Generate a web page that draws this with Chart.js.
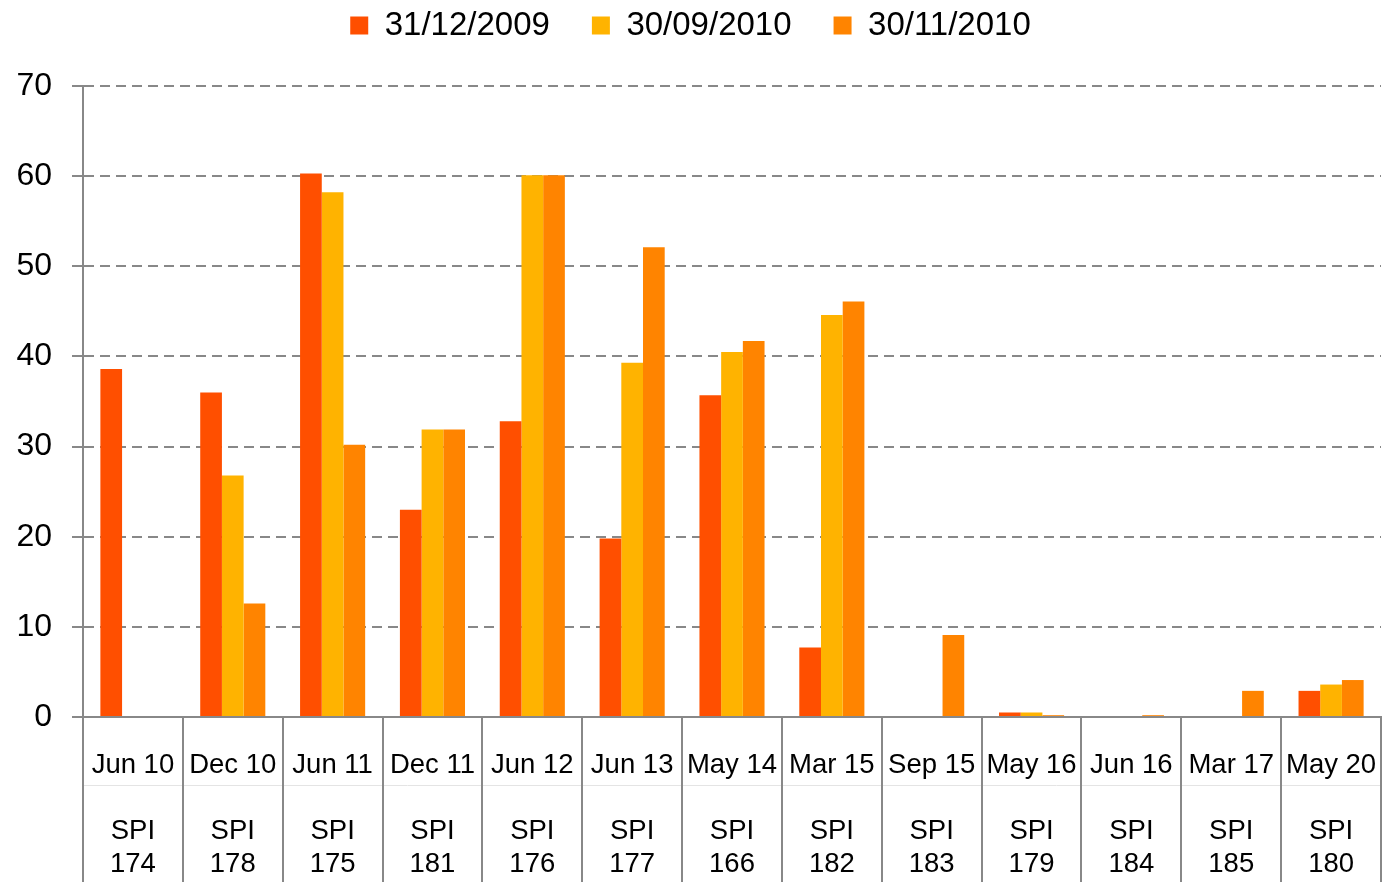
<!DOCTYPE html>
<html>
<head>
<meta charset="utf-8">
<script src="https://cdn.jsdelivr.net/npm/chart.js@4/dist/chart.umd.min.js"></script>
<style>
  html, body { margin: 0; padding: 0; background: #fff; }
  #wrap { width: 1384px; height: 882px; position: relative; }
</style>
</head>
<body>
<div id="wrap"><canvas id="spiChart"></canvas></div>
<script>
const dates = ["Jun 10", "Dec 10", "Jun 11", "Dec 11", "Jun 12", "Jun 13", "May 14",
  "Mar 15", "Sep 15", "May 16", "Jun 16", "Mar 17", "May 20"];
const spiCodes = ["174", "178", "175", "181", "176", "177", "166",
  "182", "183", "179", "184", "185", "180"];

const seriesNames = ["31/12/2009", "30/09/2010", "30/11/2010"];
const dec2009 = [38.6, 36.0, 60.3, 23.0, 32.8, 19.8, 35.7, 7.7, null, 0.5, null, null, 2.9];
const sep2010 = [null, 26.8, 58.2, 31.9, 60.1, 39.3, 40.5, 44.6, null, 0.5, null, null, 3.6];
const nov2010 = [null, 12.6, 30.2, 31.9, 60.1, 52.1, 41.7, 46.1, 9.1, 0.2, 0.2, 2.9, 4.1];

const yMin = 0, yMax = 70, yStep = 10;

const colors = ["#FF4F00", "#FFB300", "#FF8400"];
const gridGrey = "#888888";
const font = "'Liberation Sans', Arial, sans-serif";

// category separators running down through the label area
const separatorPlugin = {
  id: "separators",
  afterDraw(chart) {
    const { ctx, chartArea, scales } = chart;
    const x = scales.x;
    const half = (x.getPixelForValue(1) - x.getPixelForValue(0)) / 2;
    ctx.save();
    // faint row line between date and SPI
    ctx.strokeStyle = "#e4e4e4";
    ctx.lineWidth = 1;
    ctx.beginPath();
    ctx.moveTo(chartArea.left, chartArea.bottom + 68.5);
    ctx.lineTo(chartArea.right, chartArea.bottom + 68.5);
    ctx.stroke();

    ctx.strokeStyle = gridGrey;
    ctx.lineWidth = 2;
    for (let i = 0; i <= dates.length; i++) {
      const px = Math.round(x.getPixelForValue(i) - half);
      ctx.beginPath();
      ctx.moveTo(px, chartArea.bottom);
      ctx.lineTo(px, chart.height);
      ctx.stroke();
    }
    ctx.restore();
  }
};

const labels = dates.map((d, i) => [d, "", "SPI", spiCodes[i]]);

new Chart(document.getElementById("spiChart"), {
  type: "bar",
  data: {
    labels: labels,
    datasets: [
      { label: seriesNames[0], data: dec2009, backgroundColor: colors[0] },
      { label: seriesNames[1], data: sep2010, backgroundColor: colors[1] },
      { label: seriesNames[2], data: nov2010, backgroundColor: colors[2] }
    ]
  },
  plugins: [separatorPlugin],
  options: {
    responsive: true,
    maintainAspectRatio: false,
    animation: false,
    datasets: {
      bar: { categoryPercentage: 0.652, barPercentage: 1, borderWidth: 0 }
    },
    layout: { padding: { top: -33, left: 0, right: 3, bottom: 0 } },
    plugins: {
      tooltip: { enabled: false },
      legend: {
        position: "top",
        weight: 3000,
        labels: {
          color: "#000",
          font: { family: font, size: 33, lineHeight: 1 },
          boxWidth: 18,
          boxHeight: 18,
          padding: 42
        }
      },
      // empty spacer between the legend and the plot
      subtitle: {
        display: true,
        text: "",
        font: { size: 10, lineHeight: 1 },
        padding: { top: 0, bottom: 24 }
      }
    },
    scales: {
      x: {
        grid: { display: false, drawTicks: false },
        border: { display: true, color: gridGrey, width: 2 },
        ticks: {
          color: "#000",
          font: { family: font, size: 27.5, lineHeight: 1.2 },
          padding: 32,
          maxRotation: 0,
          autoSkip: false
        },
        afterFit(s) {
          s.height = 165;
          s.paddingLeft = 0;
          s.paddingRight = 0;
        }
      },
      y: {
        min: yMin,
        max: yMax,
        grid: {
          color: gridGrey,
          lineWidth: 2,
          tickLength: 11,
          tickColor: gridGrey,
          tickWidth: 2,
          tickBorderDash: []
        },
        border: { display: true, color: gridGrey, width: 2, dash: [10, 6] },
        ticks: {
          stepSize: yStep,
          color: "#000",
          font: { family: font, size: 32 },
          padding: 20
        },
        afterFit(s) {
          s.width = 83;
          s.paddingTop = 0;
          s.paddingBottom = 0;
        }
      }
    }
  }
});
</script>
</body>
</html>
